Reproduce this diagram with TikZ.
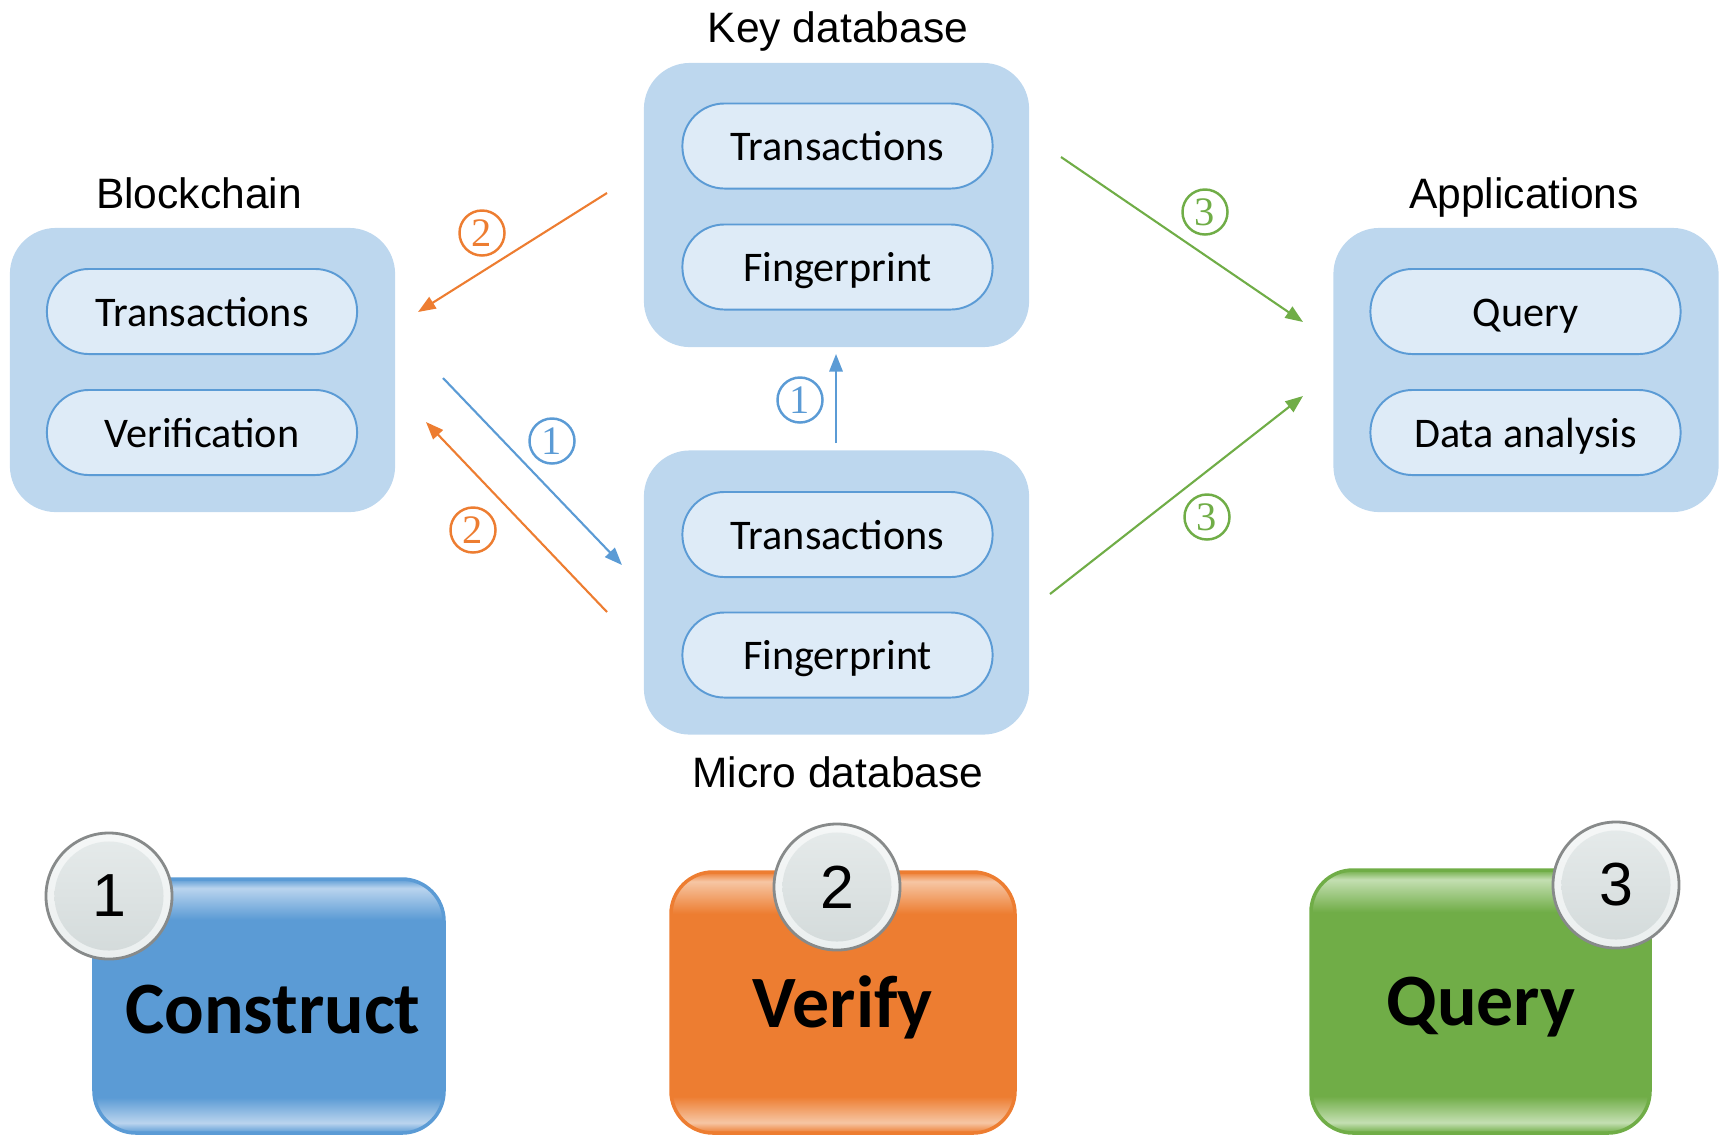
\documentclass[tikz,border=0pt]{standalone}
\usepackage{fontspec}
\setmainfont{Liberation Sans}
\newfontfamily\calibri{Carlito}
\newfontfamily\serifnum{Liberation Serif}
\usetikzlibrary{arrows.meta}

\definecolor{boxblue}{HTML}{BDD7EE}
\definecolor{pillfill}{HTML}{DEEBF7}
\definecolor{accblue}{HTML}{5B9BD5}
\definecolor{accorange}{HTML}{ED7D31}
\definecolor{accgreen}{HTML}{70AD47}
\definecolor{lblue}{HTML}{BAD4EE}
\definecolor{lorange}{HTML}{F6C6A4}
\definecolor{lgreen}{HTML}{C4DFB2}
\definecolor{ringgray}{HTML}{878A8A}
\definecolor{ballhi}{HTML}{F5F7F7}
\definecolor{ballmid}{HTML}{EBEFEF}
\definecolor{balllo}{HTML}{D3DADA}
\definecolor{ballin}{HTML}{E6EBEB}

% glossy bands at top and bottom of the step cards (path box = 25bp..75bp)
\pgfdeclareverticalshading{glossblue}{100bp}{color(0bp)=(accblue); color(25bp)=(accblue); color(27bp)=(lblue); color(32bp)=(accblue); color(67bp)=(accblue); color(73.2bp)=(lblue); color(75bp)=(accblue); color(100bp)=(accblue)}
\pgfdeclareverticalshading{glossorange}{100bp}{color(0bp)=(accorange); color(25bp)=(accorange); color(27bp)=(lorange); color(32bp)=(accorange); color(67bp)=(accorange); color(73.2bp)=(lorange); color(75bp)=(accorange); color(100bp)=(accorange)}
\pgfdeclareverticalshading{glossgreen}{100bp}{color(0bp)=(accgreen); color(25bp)=(accgreen); color(27bp)=(lgreen); color(32bp)=(accgreen); color(67bp)=(accgreen); color(73.2bp)=(lgreen); color(75bp)=(accgreen); color(100bp)=(accgreen)}

\tikzset{
  group/.style={fill=boxblue, draw=none, rounded corners=0.46cm,
    minimum width=3.85cm, minimum height=2.84cm},
  pill/.style={fill=pillfill, draw=accblue, line width=0.55pt, rounded corners=0.42cm,
    minimum width=3.1cm, minimum height=0.85cm, inner sep=0pt,
    text height=8.9pt, text depth=0.6pt,
    font=\calibri\fontsize{12}{14}\selectfont},
  title/.style={font=\fontsize{12.1}{14}\selectfont, inner sep=0pt,
    text height=8.7pt, text depth=0pt},
  flow/.style={line width=0.6pt, -{Triangle[length=5pt,width=3.8pt]}},
  circnum/.style={circle, draw, line width=0.7pt, minimum size=0.45cm, inner sep=0pt,
    font=\serifnum\fontsize{11.5}{12}\selectfont},
  card/.style={rounded corners=0.42cm, line width=1pt},
  cardtext/.style={font=\calibri\bfseries\fontsize{21}{24}\selectfont, inner sep=0pt},
  ball/.style={circle, minimum size=1.26cm, inner sep=0pt, draw=ringgray, line width=0.8pt,
    top color=ballhi, bottom color=ballmid,
    path picture={\shade[top color=ballin, bottom color=balllo]
      (path picture bounding box.center) circle (0.545cm);},
    font=\fontsize{17.3}{20}\selectfont}
}

\begin{document}
\begin{tikzpicture}[x=0.01cm, y=-0.01cm]
\useasboundingbox (0,0) rectangle (1724,1135);

% ---- four component groups ----
\node[group] (chain) at (202.5,370) {};
\node[group] (keydb) at (836.5,205) {};
\node[group] (microdb) at (836.5,592.5) {};
\node[group] (apps) at (1526,370) {};

\node[title] (chaintitle) at (199,193) {Blockchain};
\node[title] (keytitle) at (838,27) {Key database};
\node[title] (microtitle) at (838,772) {Micro database};
\node[title] (appstitle) at (1524,193) {Applications};

\node[pill] (chaintx) at (202,311.5) {Transactions};
\node[pill] (chainver) at (202,432.5) {Verification};
\node[pill] (keytx) at (837.5,146) {Transactions};
\node[pill] (keyfp) at (837.5,267) {Fingerprint};
\node[pill] (microtx) at (837.5,534.5) {Transactions};
\node[pill] (microfp) at (837.5,655) {Fingerprint};
\node[pill] (appq) at (1525.5,311.5) {Query};
\node[pill] (appda) at (1525.5,432.5) {Data analysis};

% ---- arrow end points ----
\coordinate (k2s) at (607,193);
\coordinate (k2e) at (418,312);
\coordinate (c1s) at (443,378);
\coordinate (c1e) at (622,565);
\coordinate (m2s) at (607,612);
\coordinate (m2e) at (426,422);
\coordinate (m1s) at (836,443);
\coordinate (m1e) at (836,354);
\coordinate (k3s) at (1061,157);
\coordinate (k3e) at (1303,322);
\coordinate (m3s) at (1050,594);
\coordinate (m3e) at (1303,396);

\draw[flow, accorange] (k2s) -- (k2e);
\draw[flow, accblue] (c1s) -- (c1e);
\draw[flow, accorange] (m2s) -- (m2e);
\draw[flow, accblue] (m1s) -- (m1e);
\draw[flow, accgreen] (k3s) -- (k3e);
\draw[flow, accgreen] (m3s) -- (m3e);

\node[circnum, accorange] (n2a) at (482,233) {2};
\node[circnum, accblue] (n1a) at (552,441) {1};
\node[circnum, accorange] (n2b) at (473,530) {2};
\node[circnum, accblue] (n1b) at (800,400) {1};
\node[circnum, accgreen] (n3a) at (1205,212) {3};
\node[circnum, accgreen] (n3b) at (1207,517) {3};

% ---- step cards ----
\path[card, draw=accblue, shading=glossblue] (94,879) rectangle (444,1133);
\node[cardtext] (construct) at (273,1010) {Construct};
\node[ball] (b1) at (109,896) {1};

\path[card, draw=accorange, shading=glossorange] (671,872) rectangle (1015,1133);
\node[cardtext] (verify) at (843,1007) {Verify};
\node[ball] (b2) at (837,887) {2};

\path[card, draw=accgreen, shading=glossgreen] (1311,870) rectangle (1650,1133);
\node[cardtext] (query) at (1481,1007) {Query};
\node[ball] (b3) at (1616,885) {3};
\end{tikzpicture}
\end{document}
